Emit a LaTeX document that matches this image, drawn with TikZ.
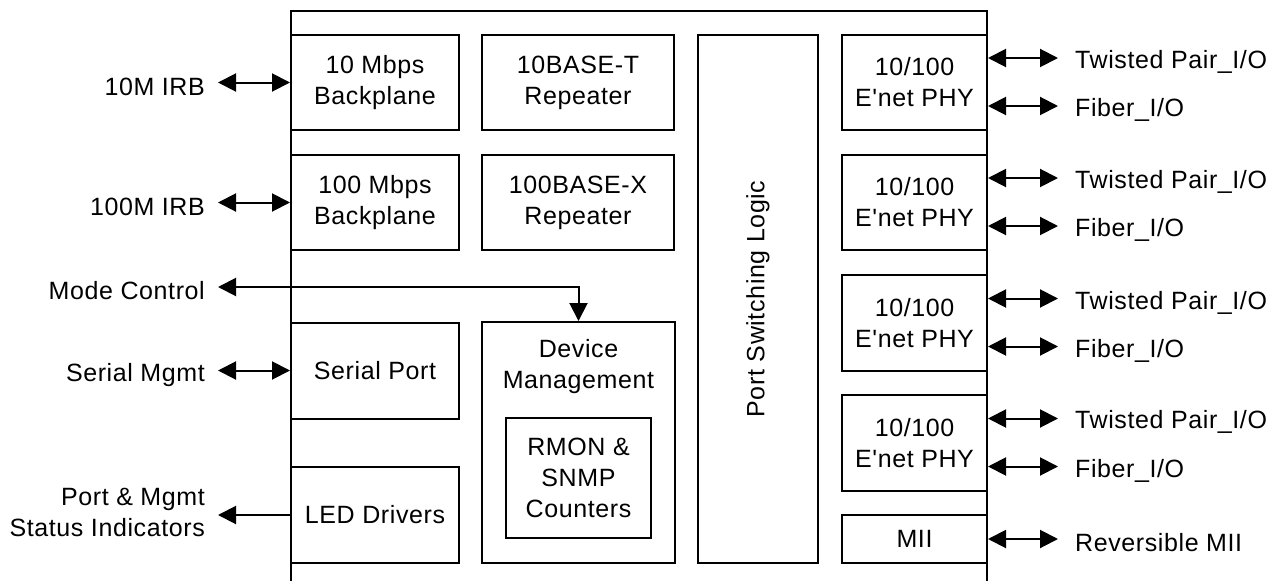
\documentclass[tikz,border=0pt]{standalone}
\usepackage{fontspec}
\setmainfont{Liberation Sans}[LetterSpace=2.4, Ligatures=TeXOff]
\usetikzlibrary{arrows.meta}
\begin{document}
\begin{tikzpicture}[x=1pt,y=-1pt,
  every node/.style={font=\fontsize{25}{31}\selectfont},
  blk/.style={draw, line width=2pt, inner sep=0pt, align=center},
  lbl/.style={inner sep=0pt, align=right},
  tipA/.tip={Triangle[length=18pt,width=18pt]},
  onear/.style={line width=2pt, -tipA},
  biar/.style={line width=2pt, tipA-tipA}]
\useasboundingbox (0,0) rectangle (1278,581);
% outer frame (open at the bottom)
\draw[line width=2pt] (291,581) -- (291,11) -- (987,11) -- (987,581);
% left column
\node[blk, minimum width=168, minimum height=95] (b10) at (375,82.5) {10 Mbps\\Backplane};
\node[blk, minimum width=168, minimum height=95] (b100) at (375,202.5) {100 Mbps\\Backplane};
\node[blk, minimum width=168, minimum height=96] (serial) at (375,370.5) {Serial Port};
\node[blk, minimum width=168, minimum height=96] (led) at (375,515) {LED Drivers};
% second column
\node[blk, minimum width=192, minimum height=95] (rep10) at (578,82.5) {10BASE-T\\Repeater};
\node[blk, minimum width=192, minimum height=95] (rep100) at (578,202.5) {100BASE-X\\Repeater};
\node[blk, minimum width=193, minimum height=241] (devmgmt) at (578.5,442.5) {};
\node[inner sep=0pt, align=center] (devtxt) at (578.5,367) {Device\\Management};
\node[blk, minimum width=145, minimum height=120] (rmon) at (578.5,478) {RMON \&\\SNMP\\Counters};
% switching logic
\node[blk, minimum width=120, minimum height=528] (psl) at (758,299) {};
\node[inner sep=0pt, rotate=90] (psltxt) at (psl.center) {Port Switching Logic};
% PHYs
\node[blk, minimum width=145, minimum height=95] (phy1) at (914.5,82.5) {10/100\\E'net PHY};
\node[blk, minimum width=145, minimum height=95] (phy2) at (914.5,202.5) {10/100\\E'net PHY};
\node[blk, minimum width=145, minimum height=96] (phy3) at (914.5,323) {10/100\\E'net PHY};
\node[blk, minimum width=145, minimum height=96] (phy4) at (914.5,443) {10/100\\E'net PHY};
\node[blk, minimum width=145, minimum height=48] (mii) at (914.5,539) {MII};
% left labels
\node[lbl, anchor=east] (irb10) at (205,87) {10M IRB};
\node[lbl, anchor=east] (irb100) at (205,207) {100M IRB};
\node[lbl, anchor=east] (mode) at (205,291) {Mode Control};
\node[lbl, anchor=east] (smgmt) at (205,375) {Serial Mgmt};
\node[lbl, anchor=east] (pmsi) at (205,512.5) {Port \& Mgmt\\Status Indicators};
% right labels
\foreach \i/\ya/\yb in {1/62/110,2/182/230,3/303/351,4/422/471}{
  \node[lbl, anchor=west] (tp\i) at (1075,\ya) {Twisted Pair\_I/O};
  \node[lbl, anchor=west] (fi\i) at (1075,\yb) {Fiber\_I/O};
}
\node[lbl, anchor=west] (rmii) at (1075,543) {Reversible MII};
% left connectors
\draw[biar, shorten <=13pt] (irb10.east |- b10.west) -- (b10.west);
\draw[biar, shorten <=13pt] (irb100.east |- b100.west) -- (b100.west);
\draw[biar, shorten <=13pt] (smgmt.east |- serial.west) -- (serial.west);
\draw[onear, shorten >=13pt] (led.west) -- (led.west -| pmsi.east);
\coordinate (mc) at (578.5,287);
\draw[biar, shorten <=13pt] (mode.east |- mc) -- (mc) -- (devmgmt.north);
% right connectors
\foreach \i in {1,...,4}{
  \draw[biar, shorten >=17pt] ([yshift=24.5pt]phy\i.east) -- ([yshift=24.5pt]phy\i.east -| tp\i.west);
  \draw[biar, shorten >=17pt] ([yshift=-23.5pt]phy\i.east) -- ([yshift=-23.5pt]phy\i.east -| fi\i.west);
}
\draw[biar, shorten >=17pt] (mii.east) -- (mii.east -| rmii.west);
\end{tikzpicture}
\end{document}
